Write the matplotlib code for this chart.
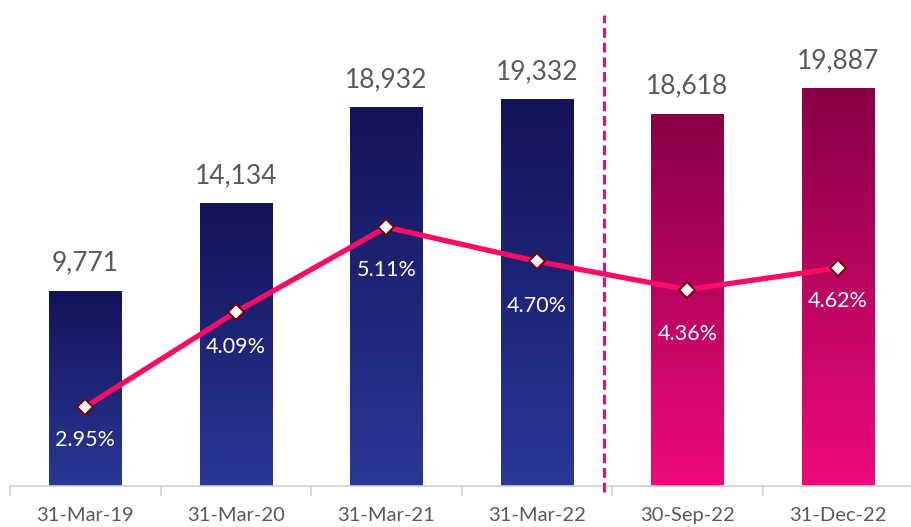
import matplotlib.pyplot as plt
import numpy as np
from matplotlib.colors import LinearSegmentedColormap

categories = ['31-Mar-19', '31-Mar-20', '31-Mar-21', '31-Mar-22', '30-Sep-22', '31-Dec-22']
values = [9771, 14134, 18932, 19332, 18618, 19887]
rates = [2.95, 4.09, 5.11, 4.70, 4.36, 4.62]
value_labels = ['9,771', '14,134', '18,932', '19,332', '18,618', '19,887']
rate_labels = ['2.95%', '4.09%', '5.11%', '4.70%', '4.36%', '4.62%']
group = ['blue', 'blue', 'blue', 'blue', 'pink', 'pink']

# label offsets below the markers (points)
label_dy = [-24, -25, -31, -32, -32, -24]

blue_cmap = LinearSegmentedColormap.from_list('b', ['#2A3896', '#13135A'])
pink_cmap = LinearSegmentedColormap.from_list('p', ['#EE0A7B', '#880044'])
cmaps = {'blue': blue_cmap, 'pink': pink_cmap}

plt.rcParams['font.family'] = ['Lato', 'DejaVu Sans']

fig = plt.figure(figsize=(9.11, 5.27), dpi=100)
ax = fig.add_axes([10 / 911, 41 / 527, 903 / 911, 486 / 527])
x = np.arange(len(categories))

bars = ax.bar(x, values, width=0.48, color='none', edgecolor='none', zorder=2)
grad = np.linspace(0, 1, 256).reshape(-1, 1)
for b, g in zip(bars, group):
    x0, y0 = b.get_x(), b.get_y()
    w, h = b.get_width(), b.get_height()
    im = ax.imshow(grad, cmap=cmaps[g], origin='lower', aspect='auto',
                   extent=[x0, x0 + w, y0, y0 + h], zorder=2)
    im.set_clip_path(b)

for xi, v, lab in zip(x, values, value_labels):
    ax.annotate(lab, (xi, v), xytext=(0, 11), textcoords='offset points',
                ha='center', va='bottom', fontsize=19, color='#595959')

ax.set_xlim(-0.5, 5.5)
ax.set_ylim(0, 24300)
ax.set_yticks([])
for s in ['left', 'right', 'top']:
    ax.spines[s].set_visible(False)
ax.spines['bottom'].set_color('#D0D0D0')
ax.spines['bottom'].set_linewidth(1.2)
ax.set_xticks(x)
ax.set_xticklabels(categories, fontsize=14.5, color='#595959')
ax.tick_params(axis='x', which='major', length=0, pad=15)
ax.set_xticks(np.arange(-0.5, 6.0, 1.0), minor=True)
ax.tick_params(axis='x', which='minor', length=7, color='#D0D0D0', width=1.2)

ax.axvline(3.45, ymin=-0.012, ymax=0.97, color='#E0107F', lw=2.2,
           ls=(0, (3.2, 1.6)), clip_on=False, zorder=3)

ax2 = ax.twinx()
ax2.set_ylim(2.0, 7.84)
ax2.set_yticks([])
for s in ax2.spines.values():
    s.set_visible(False)
ax2.plot(x, rates, color='#FF0A64', lw=3.8, marker='D', markersize=8,
         markerfacecolor='white', markeredgecolor='#7A0010', markeredgewidth=1.5,
         zorder=4)
for xi, r, lab, dy in zip(x, rates, rate_labels, label_dy):
    ax2.annotate(lab, (xi, r), xytext=(0, dy), textcoords='offset points',
                 ha='center', va='center', fontsize=15.5, color='white')

fig.savefig('out.png', dpi=100)
